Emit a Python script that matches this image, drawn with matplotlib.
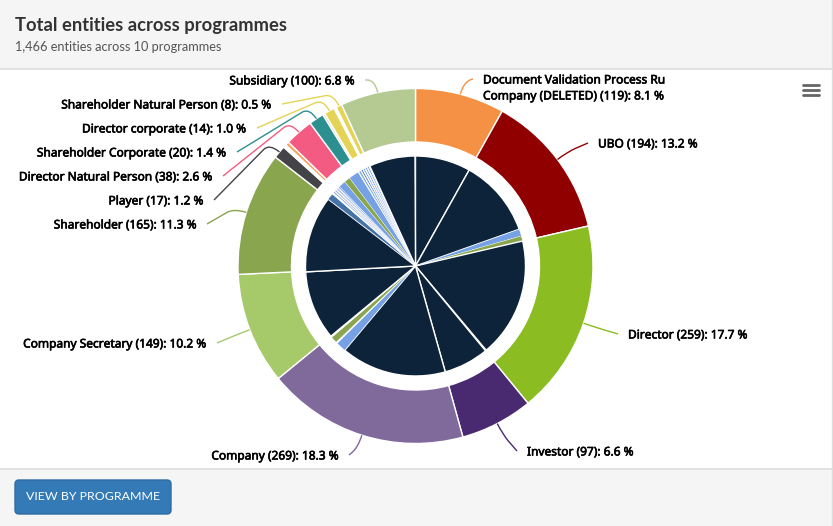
import numpy as np
import matplotlib
matplotlib.use("Agg")
import matplotlib.pyplot as plt
import matplotlib.patheffects as pe
from matplotlib.patches import FancyBboxPatch, Rectangle, PathPatch
from matplotlib.path import Path

# outer ring, clockwise from 12 o'clock ('' = unlabelled slice)
role_names = ['Document Validation Process Ru\nCompany (DELETED)', 'UBO', 'Director', 'Investor', 'Company',
              'Company Secretary', 'Shareholder', 'Player', '', '', '', 'Director Natural Person',
              'Shareholder Corporate', '', 'Director corporate', '', 'Shareholder Natural Person', 'Subsidiary']
role_counts = [119, 194, 259, 97, 269, 149, 165, 17, 2, 2, 5, 38, 20, 3, 14, 3, 8, 100]
role_percent = ['8.1', '13.2', '17.7', '6.6', '18.3', '10.2', '11.3', '1.2', '', '', '', '2.6', '1.4', '', '1.0', '', '0.5', '6.8']
role_colors = ['#f59145', '#910000', '#8bbc21', '#492970', '#80699b', '#a6c96a', '#89a54e', '#434348',
               '#a9cdf0', '#7cb5ec', '#f7a35c', '#f45b82', '#2b908f', '#dcd9c0', '#e4d354', '#ffffff',
               '#e4d354', '#b5ca92']

# inner ring, programmes inside each role
navy = '#0d233a'
blue = '#77a1e5'
green = '#89a54e'
steel = '#4572a7'
red = '#910000'
white = '#ffffff'
programme_counts = [119, 168, 15, 11, 257, 2, 97, 227, 22, 3, 14, 3, 149, 165,
                    14, 4, 3, 2, 2, 1, 2, 3, 2, 3, 15, 13, 22, 2, 4, 2, 3, 2, 3, 2, 3, 2, 3, 2, 99, 1]
programme_colors = [navy, navy, blue, green, navy, '#c8ced4', navy, navy, blue, white, green, white, navy, navy,
                    steel, white, blue, white, steel, red, white, blue, white, blue, blue, green, blue, white,
                    blue, white, steel, white, blue, white, blue, white, blue, white, navy, '#c8ced4']

# label layout in pixels: side anchor x, y
label_x = {'Document Validation Process Ru\nCompany (DELETED)': 483, 'UBO': 598, 'Director': 628, 'Investor': 527,
           'Company': 339, 'Company Secretary': 207, 'Shareholder': 197, 'Player': 204,
           'Director Natural Person': 213, 'Shareholder Corporate': 227, 'Director corporate': 247,
           'Shareholder Natural Person': 272, 'Subsidiary': 355}
label_y = {'Document Validation Process Ru\nCompany (DELETED)': 88, 'UBO': 144, 'Director': 335, 'Investor': 452,
           'Company': 456, 'Company Secretary': 344, 'Shareholder': 225, 'Player': 201,
           'Director Natural Person': 177, 'Shareholder Corporate': 153, 'Director corporate': 129,
           'Shareholder Natural Person': 105, 'Subsidiary': 81}

W, H = 833, 526
cx, cy = 415.5, H - 266
r_out, r_hole, r_in = 177.5, 124, 110

fig = plt.figure(figsize=(W / 100, H / 100), dpi=100)
ax = fig.add_axes([0, 0, 1, 1])

# panel
ax.add_patch(Rectangle((0, H - 68), W, 68, fc='#f5f5f5', ec='none', zorder=0))
ax.add_patch(Rectangle((0, 0), W, 57, fc='#f5f5f5', ec='none', zorder=0))
ax.plot([0, W], [H - 68.5, H - 68.5], color='#dddddd', lw=1.2, zorder=1)
ax.plot([0, W], [57, 57], color='#dddddd', lw=1.2, zorder=1)
ax.plot([832.5, 832.5], [0, H], color='#dddddd', lw=1, zorder=1)

ax.text(15, H - 26, 'Total entities across programmes', family='Lato', weight='bold', fontsize=13.2,
        color='#333333', va='center')
ax.text(15, H - 47, '1,466 entities across 10 programmes', family='Lato', fontsize=9.2,
        color='#555555', va='center')

# button
ax.add_patch(FancyBboxPatch((15, 12), 156, 34, boxstyle='round,pad=0,rounding_size=4',
                            fc='#337ab7', ec='#2e6da4', lw=1, zorder=2))
ax.text(93, 29.5, 'VIEW BY PROGRAMME', family='Lato', fontsize=8.9, color='white', ha='center', va='center', zorder=3)

# menu icon
for y in [85, 90, 95]:
    ax.plot([803, 819], [H - y, H - y], color='#666666', lw=2, solid_capstyle='round')

# rings
ax.pie(role_counts, colors=role_colors, startangle=90, counterclock=False, radius=r_out, center=(cx, cy),
       frame=True, wedgeprops=dict(width=r_out - r_hole, edgecolor='white', linewidth=1))
inner = ax.pie(programme_counts, colors=programme_colors, startangle=90, counterclock=False, radius=r_in,
               center=(cx, cy), frame=True, wedgeprops=dict(edgecolor='white', linewidth=1))[0]
for wedge, count in zip(inner, programme_counts):
    if count < 30:
        wedge.set_linewidth(0.25)

# labels and connectors
total = sum(role_counts)
edges = np.cumsum([0] + role_counts)
for i, name in enumerate(role_names):
    if name == '':
        continue
    mid = (edges[i] + edges[i + 1]) / 2 / total * 2 * np.pi
    on_right = np.sin(mid) > 0
    text = '%s (%d): %s %%' % (name, role_counts[i], role_percent[i])
    lx, ly = label_x[name], H - label_y[name]
    ax.text(lx, ly, text, family='Noto Sans', fontsize=8.6, color='black',
            ha='left' if on_right else 'right', va='center', linespacing=1.3,
            path_effects=[pe.withStroke(linewidth=0.45, foreground='black')])
    p0 = (cx + r_out * np.sin(mid), cy + r_out * np.cos(mid))
    elbow = (cx + (r_out + 13) * np.sin(mid), cy + (r_out + 13) * np.cos(mid))
    end_y = ly + 9 if '\n' in name else ly + 1
    end = (lx - 10 if on_right else lx + 10, end_y)
    d = np.hypot(end[0] - elbow[0], end[1] - elbow[1])
    t = min(8 / d, 1)
    turn = (elbow[0] + (end[0] - elbow[0]) * t, elbow[1] + (end[1] - elbow[1]) * t)
    path = Path([p0, elbow, turn, end], [Path.MOVETO, Path.CURVE3, Path.CURVE3, Path.LINETO])
    ax.add_patch(PathPatch(path, fc='none', ec=role_colors[i], lw=1, zorder=1.5))

ax.set_xlim(0, W)
ax.set_ylim(0, H)
ax.axis('off')
fig.savefig('out.png', dpi=100)
